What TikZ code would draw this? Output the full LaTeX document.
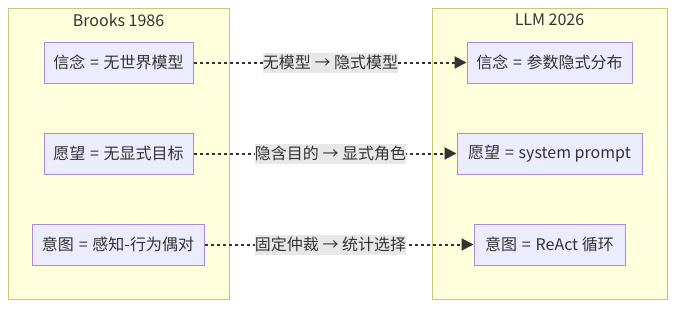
\documentclass[tikz,border=0pt]{standalone}
\usepackage{fontspec}
\setmainfont{Noto Sans CJK SC}
\usetikzlibrary{arrows.meta,calc,positioning}
\definecolor{ClusterFill}{HTML}{FFFFDE}
\definecolor{ClusterLine}{HTML}{C8C874}
\definecolor{BoxFill}{HTML}{ECECFF}
\definecolor{BoxLine}{HTML}{A98BE0}
\definecolor{TextClr}{HTML}{333333}
\definecolor{LabelFill}{HTML}{E8E8E8}

\tikzset{
  cluster/.style={draw=ClusterLine,fill=ClusterFill,line width=.75pt,
    minimum width=#1,minimum height=218.25pt,inner sep=0pt},
  title/.style={text=TextClr,font=\fontsize{12}{14}\selectfont,inner sep=0pt},
  state/.style={draw=BoxLine,fill=BoxFill,line width=.75pt,text=TextClr,
    font=\fontsize{12}{14}\selectfont,minimum height=30.75pt,minimum width=#1,
    inner xsep=6pt,inner ysep=0pt},
  maplabel/.style={fill=LabelFill,text=TextClr,font=\fontsize{12}{14}\selectfont,
    inner xsep=0pt,inner ysep=1pt,minimum height=15pt},
  mapping/.style={draw=TextClr,line width=1.5pt,dash pattern=on 2.25pt off 2.25pt,
    -{Triangle[length=9pt,width=9pt]}}
}
\newcommand{\eq}{\hspace{.3em}=\hspace{.3em}}

\begin{document}
\begin{tikzpicture}[x=.75pt,y=-.75pt]
\useasboundingbox (0,0) rectangle (674,308);

\node[cluster=165.75pt] (brooks) at (118.5,153.5) {};
\node[cluster=176.25pt] (llm) at (549.5,153.5) {};
\node[title] (brooksT) at (118.5,20) {Brooks 1986};
\node[title] (llmT) at (549.5,20) {LLM 2026};

\node[state=111.75pt] (b1) at (118.5,62.5) {信念\eq 无世界模型};
\node[state=111.75pt] (b2) at (118.5,153.5) {愿望\eq 无显式目标};
\node[state=129pt] (b3) at (118,244.5) {意图\eq 感知-行为偶对};

\node[state=123.75pt] (l1) at (549.5,62.5) {信念\eq 参数隐式分布};
\node[state=138.75pt] (l2) at (549.5,153.5) {愿望\eq system prompt};
\node[state=113.25pt] (l3) at (549.5,244.5) {意图\eq ReAct 循环};

\coordinate (gap) at ($(brooks.east)!.5!(llm.west)$);

\draw[mapping] (b1) -- (l1);
\draw[mapping] (b2) -- (l2);
\draw[mapping] (b3) -- (l3);

\node[maplabel] (m1) at (gap |- b1) {无模型 → 隐式模型};
\node[maplabel] (m2) at (gap |- b2) {隐含目的 → 显式角色};
\node[maplabel] (m3) at (gap |- b3) {固定仲裁 → 统计选择};

\end{tikzpicture}
\end{document}
